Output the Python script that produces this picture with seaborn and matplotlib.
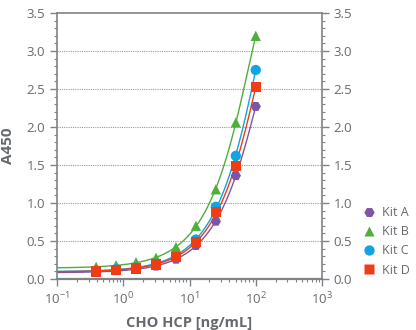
import numpy as np
import pandas as pd
import matplotlib
matplotlib.use("Agg")
import matplotlib.pyplot as plt
import seaborn as sns
from matplotlib.ticker import MultipleLocator, LogLocator, NullFormatter

conc = [0.39, 0.78, 1.56, 3.125, 6.25, 12.5, 25, 50, 100]
kit_a = [0.09, 0.11, 0.13, 0.17, 0.26, 0.44, 0.76, 1.36, 2.27]
kit_b = [0.16, 0.18, 0.22, 0.28, 0.42, 0.70, 1.18, 2.06, 3.20]
kit_c = [0.11, 0.13, 0.15, 0.20, 0.30, 0.52, 0.95, 1.62, 2.75]
kit_d = [0.10, 0.12, 0.14, 0.19, 0.29, 0.49, 0.88, 1.49, 2.53]
kits = ["Kit A", "Kit B", "Kit C", "Kit D"]
colors = {"Kit A": "#7b55a6", "Kit B": "#4fae3c", "Kit C": "#12a3e3", "Kit D": "#f03c14"}
markers = {"Kit A": "H", "Kit B": "^", "Kit C": "o", "Kit D": "s"}

series = dict(zip(kits, [kit_a, kit_b, kit_c, kit_d]))
df = pd.DataFrame([(c, v, k) for k, vals in series.items() for c, v in zip(conc, vals)],
                  columns=["conc", "A450", "kit"])

# fitted curves (quadratic in concentration) from the data
xf = np.logspace(-1, 2, 200)
fit_rows = []
for k, vals in series.items():
    p = np.polyfit(conc, vals, 2)
    for x in xf:
        fit_rows.append((x, np.polyval(p, x), k))
fit = pd.DataFrame(fit_rows, columns=["conc", "A450", "kit"])

sns.set_style("white")
plt.rcParams["font.family"] = ["Open Sans", "DejaVu Sans"]
grey = "#7f8387"
txt = "#666a6e"

fig = plt.figure(figsize=(4.16, 3.3), dpi=100)
ax = fig.add_axes([57/416, 51/330, 265/416, 266/330])

sns.lineplot(data=fit, x="conc", y="A450", hue="kit", palette=colors, ax=ax,
             linewidth=1.0, legend=False, sort=True)
sns.scatterplot(data=df, x="conc", y="A450", hue="kit", style="kit", palette=colors,
                markers=markers, s=55, edgecolor="none", ax=ax, zorder=5)

ax.set_xscale("log")
ax.set_xlim(0.1, 1000)
ax.set_ylim(0, 3.5)
ax.yaxis.set_major_locator(MultipleLocator(0.5))
ax.yaxis.set_minor_locator(MultipleLocator(0.1))
ax.yaxis.set_major_formatter(matplotlib.ticker.FormatStrFormatter("%.1f"))
ax.xaxis.set_major_locator(LogLocator(base=10, numticks=10))
ax.xaxis.set_minor_locator(LogLocator(base=10, subs=np.arange(2, 10), numticks=20))
ax.xaxis.set_minor_formatter(NullFormatter())

for y in np.arange(0.5, 3.01, 0.5):
    ax.axhline(y, color="#9a9a9a", linestyle=(0, (1, 1)), linewidth=0.8, zorder=0)

for s in ax.spines.values():
    s.set_color(grey)
    s.set_linewidth(1.2)
ax.spines["bottom"].set_linewidth(1.6)

ax.tick_params(axis="both", which="major", direction="out", length=5, width=1, color=grey,
               labelcolor=txt, labelsize=9.5)
ax.tick_params(axis="both", which="minor", direction="out", length=2.5, width=0.8, color=grey)
ax.tick_params(axis="y", which="both", left=True, right=True, labelleft=True, labelright=True)
ax.tick_params(axis="x", which="both", bottom=True, top=False)

ax.set_xlabel("CHO HCP [ng/mL]", fontsize=10.5, fontweight="bold", color=txt, labelpad=6)
ax.set_ylabel("A450", fontsize=11, fontweight="bold", color=txt, labelpad=8)

handles, labels = ax.get_legend_handles_labels()
if ax.legend_:
    ax.legend_.remove()
leg = fig.legend(handles, labels, loc="upper left", bbox_to_anchor=(363/416, 1 - 206/330),
                 frameon=False, fontsize=9, handlelength=1.0, handletextpad=0.5,
                 labelspacing=0.5, borderaxespad=0, borderpad=0)
for t in leg.get_texts():
    t.set_color(txt)

fig.savefig("out.png", dpi=100)
